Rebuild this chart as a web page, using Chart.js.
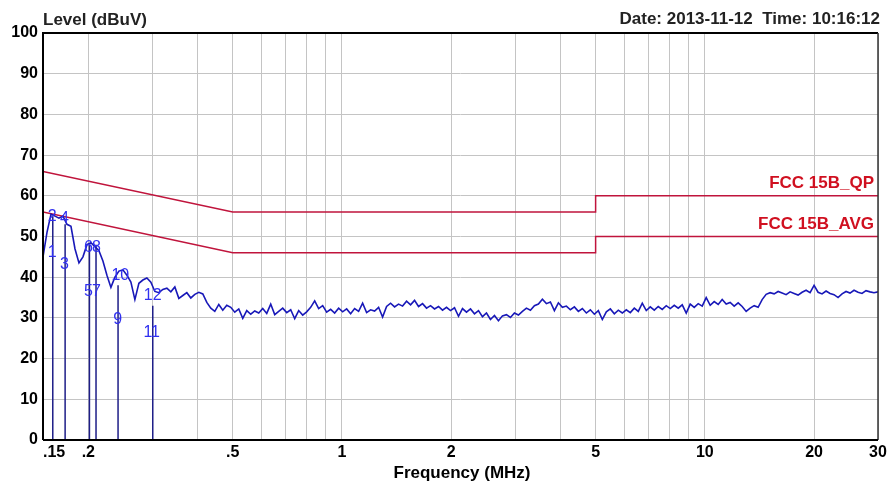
<!DOCTYPE html>
<html>
<head>
<meta charset="utf-8">
<script src="https://cdn.jsdelivr.net/npm/chart.js@4/dist/chart.umd.min.js"></script>
<style>
  html, body { margin: 0; padding: 0; background: #fff; }
  #chart { display: block; }
</style>
</head>
<body>
<canvas id="chart" width="894" height="486"></canvas>
<script>
// Conducted emission scan, FCC 15B limits

// Sweep range of the receiver (MHz)
const sweepStart = 0.15;
const sweepStop = 30;

const traceLevels = [
  45, 51, 55.5, 55, 54.5, 55, 53, 52.5, 47, 43.5,
  45, 48, 48.5, 47.5, 46.5, 44, 40.5, 37.5, 40, 41.5,
  41.8, 40.5, 38.8, 34.5, 38.5, 39.3, 39.8, 38.8, 36.5, 36.2,
  37, 37.3, 36.4, 37.6, 34.8, 35.5, 36.2, 34.9, 35.8, 36.3,
  35.9, 33.8, 32.4, 31.6, 33.3, 31.9, 33.1, 32.6, 31.4, 32.2,
  29.9, 31.8, 30.9, 31.7, 31.2, 32.3, 31.1, 33.4, 30.8, 31.6,
  32.4, 31.3, 32.0, 29.8, 31.8, 30.7, 31.5, 32.6, 34.2, 32.3,
  33.0, 31.4, 32.1, 31.2, 32.4, 31.5, 32.2, 31.0, 32.3, 31.6,
  33.6, 31.3, 32.0, 31.7, 32.6, 30.2, 32.8, 33.6, 32.7, 33.4,
  32.9, 34.1, 33.2, 34.3, 32.8, 33.5, 32.4, 33.0, 32.2, 32.8,
  31.9, 32.6, 31.8, 32.5, 30.4, 32.3, 31.4, 32.2, 31.0, 31.8,
  30.3, 31.2, 29.6, 30.6, 29.3, 30.5, 30.8, 30.1, 31.2, 30.7,
  31.6, 32.4, 31.9, 33.0, 33.4, 34.6, 33.5, 33.9, 31.8, 33.7,
  32.6, 32.9, 32.0, 32.7, 31.6, 32.3, 31.2, 32.0, 30.9, 31.8,
  29.6, 31.5, 32.2, 31.0, 31.9, 31.2, 32.0, 31.3, 32.4, 31.6,
  33.6, 31.8, 32.7, 31.9, 32.8, 32.1, 33.0, 32.3, 33.1, 32.4,
  33.2, 31.2, 33.4, 32.6, 33.5, 32.9, 35.0, 33.1, 34.0, 33.3,
  34.5, 33.4, 33.8, 32.9, 33.7, 32.8, 31.6, 32.4, 33.0, 32.6,
  34.5, 35.8, 36.2, 35.9, 36.5, 36.1, 35.7, 36.4, 36.0, 35.6,
  36.3, 36.8, 36.2, 38.0, 36.3, 35.9, 36.6, 36.0, 35.7, 35.0,
  35.9, 36.5, 36.1, 36.8, 36.3, 36.0, 36.7, 36.4, 36.2, 36.4
];

// FCC Part 15B class B limit lines
const qpFreqs = [0.15, 0.5, 5, 5, 30];
const qpLevels = [66, 56, 56, 60, 60];
const avgFreqs = [0.15, 0.5, 5, 5, 30];
const avgLevels = [56, 46, 46, 50, 50];

// Peak markers (vertical lines) and their numbered readings
const markerFreqs = [0.1596, 0.1726, 0.2014, 0.2100, 0.2415, 0.3010];
const markerTops = [55, 53, 48, 48, 38, 33];
const markerLabels = ['1', '2', '3', '4', '5', '6', '7', '8', '9', '10', '11', '12'];
const markerLabelFreqs = [0.159, 0.159, 0.172, 0.172, 0.2, 0.2, 0.2105, 0.2105, 0.241, 0.245, 0.299, 0.301];
const markerLabelLevels = [46, 54.8, 43, 54.3, 36.4, 47.2, 36.4, 47.2, 29.5, 40.3, 26.3, 35.4];

// Axes
const gridFreqs = [0.15, 0.2, 0.3, 0.4, 0.5, 0.6, 0.7, 0.8, 0.9, 1, 2, 3, 4, 5, 6, 7, 8, 9, 10, 20, 30];
const xTickValues = [0.15, 0.2, 0.5, 1, 2, 5, 10, 20, 30];
const xTickText = ['.15', '.2', '.5', '1', '2', '5', '10', '20', '30'];
const yTickValues = [0, 10, 20, 30, 40, 50, 60, 70, 80, 90, 100];

const FONT = '"Liberation Sans", Arial, sans-serif';
const LIMIT_RED = '#c0143c';

// Build datasets
const sweepFreqs = traceLevels.map((_, i) =>
  sweepStart * Math.pow(sweepStop / sweepStart, i / (traceLevels.length - 1)));

const traceData = traceLevels.map((v, i) => ({ x: sweepFreqs[i], y: v }));
const qpData = qpLevels.map((v, i) => ({ x: qpFreqs[i], y: v }));
const avgData = avgLevels.map((v, i) => ({ x: avgFreqs[i], y: v }));
const markerData = [];
markerFreqs.forEach((f, i) => {
  markerData.push({ x: f, y: 0 }, { x: f, y: markerTops[i] }, { x: f, y: null });
});

// Text, frame and marker numbers
const overlayPlugin = {
  id: 'overlay',
  afterDatasetsDraw(chart) {
    const { ctx, chartArea: a, scales } = chart;
    const xs = scales.x, ys = scales.y;
    ctx.save();

    // frame
    ctx.strokeStyle = '#000';
    ctx.lineWidth = 2;
    ctx.beginPath();
    ctx.moveTo(a.left, a.bottom);
    ctx.lineTo(a.left, a.top);
    ctx.lineTo(a.right, a.top);
    ctx.stroke();
    ctx.strokeStyle = '#333';
    ctx.lineWidth = 1.5;
    ctx.beginPath();
    ctx.moveTo(a.right, a.top);
    ctx.lineTo(a.right, a.bottom);
    ctx.stroke();
    ctx.strokeStyle = '#000';
    ctx.lineWidth = 2;
    ctx.beginPath();
    ctx.moveTo(a.left, a.bottom);
    ctx.lineTo(a.right, a.bottom);
    ctx.stroke();

    // marker numbers
    ctx.fillStyle = '#3030f0';
    ctx.font = '16px ' + FONT;
    ctx.textAlign = 'center';
    ctx.textBaseline = 'middle';
    markerLabels.forEach((t, i) => {
      ctx.fillText(t, xs.getPixelForValue(markerLabelFreqs[i]), ys.getPixelForValue(markerLabelLevels[i]));
    });

    // limit names
    ctx.fillStyle = '#d01020';
    ctx.font = 'bold 17px ' + FONT;
    ctx.textAlign = 'right';
    ctx.textBaseline = 'bottom';
    ctx.fillText('FCC 15B_QP', a.right - 4, ys.getPixelForValue(qpLevels[qpLevels.length - 1]) - 4);
    ctx.fillText('FCC 15B_AVG', a.right - 4, ys.getPixelForValue(avgLevels[avgLevels.length - 1]) - 4);

    // x tick labels
    ctx.fillStyle = '#000';
    ctx.font = 'bold 16px ' + FONT;
    ctx.textBaseline = 'middle';
    ctx.textAlign = 'left';
    xTickValues.forEach((v, i) => {
      const w = ctx.measureText(xTickText[i]).width;
      let left = xs.getPixelForValue(v) - w / 2;
      left = Math.max(a.left, Math.min(left, chart.width - w));
      ctx.fillText(xTickText[i], left, a.bottom + 13);
    });

    // titles
    ctx.font = 'bold 17px ' + FONT;
    ctx.textAlign = 'center';
    ctx.fillText('Frequency (MHz)', 462, a.bottom + 33);
    ctx.textAlign = 'left';
    ctx.textBaseline = 'alphabetic';
    ctx.fillStyle = '#222';
    ctx.fillText('Level (dBuV)', a.left, 25);
    ctx.textAlign = 'right';
    ctx.fillText('Date: 2013-11-12  Time: 10:16:12', 880, 24);

    ctx.restore();
  }
};

const ctx = document.getElementById('chart').getContext('2d');
new Chart(ctx, {
  type: 'line',
  data: {
    datasets: [
      {
        label: 'Trace',
        data: traceData,
        borderColor: '#1818b8',
        borderWidth: 1.6,
        pointRadius: 0,
        tension: 0
      },
      {
        label: 'Markers',
        data: markerData,
        borderColor: '#1e1e88',
        borderWidth: 1.5,
        pointRadius: 0,
        spanGaps: false
      },
      {
        label: 'FCC 15B_QP',
        data: qpData,
        borderColor: LIMIT_RED,
        borderWidth: 1.5,
        pointRadius: 0
      },
      {
        label: 'FCC 15B_AVG',
        data: avgData,
        borderColor: LIMIT_RED,
        borderWidth: 1.5,
        pointRadius: 0
      }
    ]
  },
  options: {
    responsive: false,
    animation: false,
    events: [],
    layout: { padding: { top: 33, right: 16, left: 0, bottom: 0 } },
    plugins: {
      legend: { display: false },
      tooltip: { enabled: false }
    },
    scales: {
      x: {
        type: 'logarithmic',
        min: sweepStart,
        max: sweepStop,
        afterBuildTicks: (scale) => {
          scale.ticks = gridFreqs.map(v => ({ value: v }));
        },
        afterFit: (scale) => { scale.height = 46; },
        ticks: { display: false },
        grid: { color: '#c4c4c4', lineWidth: 1, drawTicks: false },
        border: { display: false }
      },
      y: {
        min: 0,
        max: 100,
        afterBuildTicks: (scale) => {
          scale.ticks = yTickValues.map(v => ({ value: v }));
        },
        afterFit: (scale) => { scale.width = 43; },
        ticks: {
          color: '#000',
          padding: 5,
          font: { family: FONT, size: 16, weight: 'bold' }
        },
        grid: { color: '#c4c4c4', lineWidth: 1, drawTicks: false },
        border: { display: false }
      }
    }
  },
  plugins: [overlayPlugin]
});
</script>
</body>
</html>
